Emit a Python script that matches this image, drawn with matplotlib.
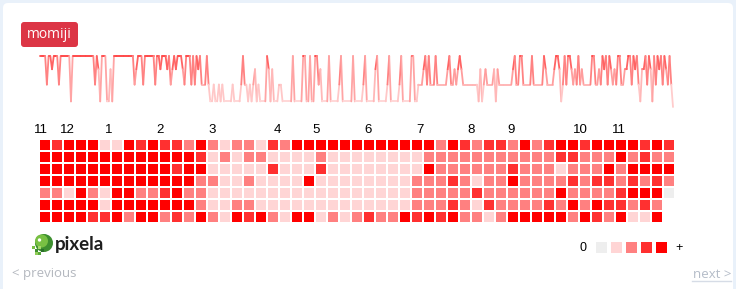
import matplotlib

matplotlib.use("Agg")
import matplotlib.pyplot as plt
import numpy as np
from matplotlib.collections import LineCollection
from matplotlib.colors import LinearSegmentedColormap
from matplotlib.patches import Circle, FancyBboxPatch, Rectangle

W, H = 736, 289

# one string per week, Sunday..Saturday, pixel levels 0-4
weeks = [
    "4444244", "3444244", "4444144", "4444444", "4444243", "1444113", "1444444",
    "4444442", "3444244", "4444244", "3444342", "3434443", "2444242", "4342224",
    "2112112", "1211111", "2111124", "2212123", "1211114", "3131112", "2111111",
    "4111114", "4114114", "4231111", "4111112", "4111111", "4111112", "4111113",
    "4111112", "4111112", "4111114", "4112223", "4242224", "2222223", "4223234",
    "3222222", "2221312", "3222231", "3222222", "2234224", "4222224", "2222224",
    "3222234", "4312424", "4323242", "3222224", "4223243", "4243232", "4422334",
    "4243421", "3342431", "4243424", "32420",
]
month_labels = ["11", "12", "1", "2", "3", "4", "5", "6", "7", "8", "9", "10", "11"]
month_label_cols = [0.08, 2.29, 5.75, 10.04, 14.33, 19.79, 23.04, 27.38, 31.67, 35.96, 39.29, 45.0, 48.25]
level_colors = ["#eeeeee", "#ffd5d5", "#ff8080", "#ff3030", "#ff0000"]
level_amounts = [0, 1.1, 4.4, 7.4, 10]
graph_name = "momiji"


def px_axes(fig, left, top, width, height):
    ax = fig.add_axes([left / W, 1 - (top + height) / H, width / W, height / H])
    ax.set_axis_off()
    return ax


fig = plt.figure(figsize=(W / 100, H / 100), dpi=100, facecolor="#e9f1fa")

# page background, card, button, logo, legend and nav
bg = px_axes(fig, 0, 0, W, H)
bg.set_xlim(0, W)
bg.set_ylim(H, 0)
bg.add_patch(FancyBboxPatch((3, 3), W - 6, H + 10, boxstyle="round,pad=0,rounding_size=5",
                            facecolor="white", edgecolor="none"))
bg.add_patch(FancyBboxPatch((21, 22), 57, 25, boxstyle="round,pad=0,rounding_size=3",
                            facecolor="#dc3545", edgecolor="none"))
bg.text(49.5, 35, graph_name, color="white", fontsize=10, family="Open Sans",
        ha="center", va="center")

# pixela logo
bg.add_patch(Circle((44, 243), 9, facecolor="#3d8f2f", edgecolor="none"))
bg.add_patch(Circle((41.5, 241), 6.5, facecolor="#78c043", edgecolor="none"))
bg.add_patch(Circle((39.5, 240), 1.7, facecolor="white", edgecolor="none"))
for dx, dy, c in [(32, 246, "#78c043"), (35, 249, "#3d8f2f"), (38, 246, "#a8d86e"),
                  (38, 252, "#5aa93a"), (41, 249, "#2a6f2b"), (35, 252, "#8fcc56")]:
    bg.add_patch(Rectangle((dx, dy), 3, 3, facecolor=c, edgecolor="none"))
bg.text(55, 244.5, "pixela", color="#1e1e1e", fontsize=13.5, family="Lato", weight="bold",
        ha="left", va="center")

bg.text(583, 248, "0", fontsize=9, family="Liberation Sans", ha="center", va="center")
for i, c in enumerate(level_colors):
    bg.add_patch(Rectangle((596 + 15 * i, 242), 11, 11, facecolor=c, edgecolor="none"))
bg.text(679, 248, "+", fontsize=9, family="Liberation Sans", ha="center", va="center")

bg.text(12, 274, "< previous", color="#b4b8bf", fontsize=9.5, family="Open Sans",
        ha="left", va="center")
bg.text(731, 274, "next >", color="#b4bcc8", fontsize=9.5, family="Open Sans",
        ha="right", va="center")
bg.plot([692, 731], [281, 281], color="#d6dce6", lw=1)

# heatmap of pixels
grid = px_axes(fig, 40, 140, 53 * 12, 7 * 12)
grid.set_xlim(0, 53)
grid.set_ylim(7, 0)
for col, week in enumerate(weeks):
    for row, lv in enumerate(week):
        grid.add_patch(Rectangle((col, row), 10 / 12, 10 / 12,
                                 facecolor=level_colors[int(lv)], edgecolor="none"))
for lab, c in zip(month_labels, month_label_cols):
    grid.text(c, -0.85, lab, fontsize=9.5, family="Liberation Sans", ha="center",
              va="center", clip_on=False)

# sparkline of the same daily values
daily = np.array([level_amounts[int(lv)] for week in weeks for lv in week])
days = np.arange(len(daily))
spark = px_axes(fig, 40, 56, 633, 51)
spark.set_xlim(0, len(daily) - 1)
spark.set_ylim(0, 10)
pts = np.column_stack([days, daily]).reshape(-1, 1, 2)
segs = np.concatenate([pts[:-1], pts[1:]], axis=1)
cmap = LinearSegmentedColormap.from_list("momiji", ["#ffe2e2", "#ffb0b0", "#ff4848"])
lc = LineCollection(segs, colors=cmap((daily[:-1] + daily[1:]) / 20), linewidths=1.3,
                    clip_on=False, capstyle="round", joinstyle="round")
spark.add_collection(lc)

fig.savefig("out.png", dpi=100, facecolor=fig.get_facecolor())
